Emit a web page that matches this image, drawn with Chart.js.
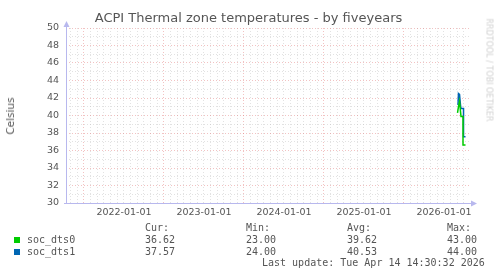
<!DOCTYPE html>
<html>
<head>
<meta charset="utf-8">
<script src="https://cdn.jsdelivr.net/npm/chart.js@4.4.1/dist/chart.umd.min.js"></script>
<style>
  html, body { margin: 0; padding: 0; background: #fff; }
  #wrap { position: relative; width: 497px; height: 276px; overflow: hidden; }
  #graf { position: absolute; left: 0; top: 0; }
  .t { position: absolute; white-space: pre; color: #555; }
  #titulo { left: 0; width: 497px; top: 10px; text-align: center; font: 13px "DejaVu Sans", sans-serif; }
  #ylabel { left: 10px; top: 116px; font: 10.5px "DejaVu Sans", sans-serif; transform: translate(-50%, -50%) rotate(-90deg); }
  #marca { left: 489px; top: 70px; font: 8px "DejaVu Sans", sans-serif; color: #d0d0d0; transform: translate(-50%, -50%) rotate(90deg); }
  .mono { font: 10px "DejaVu Sans Mono", monospace; color: #555; }
  .cx { position: absolute; width: 6px; height: 6px; }
</style>
</head>
<body>
<div id="wrap">
  <canvas id="graf" width="497" height="276"></canvas>
  <div class="t" id="titulo">ACPI Thermal zone temperatures - by fiveyears</div>
  <div class="t" id="ylabel">Celsius</div>
  <div class="t" id="marca">RRDTOOL / TOBI OETIKER</div>
  <div id="legenda"></div>
</div>
<script>
// Eixo x em anos fracionários (2026.25 = abril de 2026)
const inicioX = 2021.275;
const fimX = 2026.325;
const anosRotulo = [2022, 2023, 2024, 2025, 2026];

// soc_dts0
const tempos0 = [2026.169, 2026.181, 2026.194, 2026.206, 2026.2125, 2026.2375, 2026.2375, 2026.269];
const valores0 = [40.3, 41.0, 41.6, 40.5, 39.9, 39.9, 36.62, 36.62];

// soc_dts1
const tempos1 = [2026.175, 2026.181, 2026.194, 2026.206, 2026.2125, 2026.244, 2026.244, 2026.269];
const valores1 = [41.2, 42.5, 42.4, 41.2, 40.8, 40.8, 37.57, 37.57];

// Tabela da legenda
const series = ["soc_dts0", "soc_dts1"];
const coresSerie = ["#00cc00", "#0066b3"];
const atual = ["36.62", "37.57"];
const minimo = ["23.00", "24.00"];
const media = ["39.62", "40.53"];
const maximo = ["43.00", "44.00"];
const ultimaAtualizacao = "Last update: Tue Apr 14 14:30:32 2026";

const corEixo = "#b8b8ee";
const corGradeMaior = "rgba(225,110,110,0.42)";
const corGradeMenor = "rgba(185,185,185,0.42)";

// Montar a legenda em texto
const leg = document.getElementById("legenda");
function texto(s, x, y) {
	const d = document.createElement("div");
	d.className = "t mono";
	d.textContent = s;
	d.style.left = x + "px";
	d.style.top = y + "px";
	leg.appendChild(d);
}
texto("Cur:", 145, 222);
texto("Min:", 246, 222);
texto("Avg:", 347, 222);
texto("Max:", 447, 222);
series.forEach((nome, i) => {
	const y = 234 + i * 11.7;
	const q = document.createElement("div");
	q.className = "cx";
	q.style.left = "14px";
	q.style.top = (y + 3) + "px";
	q.style.background = coresSerie[i];
	leg.appendChild(q);
	texto(nome, 27, y);
	texto(atual[i], 145, y);
	texto(minimo[i], 246, y);
	texto(media[i], 347, y);
	texto(maximo[i], 447, y);
});
texto(ultimaAtualizacao, 262, 257);

// Eixos com setas, como no rrdtool
const setas = {
	id: "setas",
	afterDraw(chart) {
		const { ctx, chartArea: a } = chart;
		ctx.save();
		ctx.strokeStyle = corEixo;
		ctx.fillStyle = corEixo;
		ctx.lineWidth = 1;
		ctx.beginPath();
		ctx.moveTo(a.left + 0.5, a.bottom + 0.5);
		ctx.lineTo(a.left + 0.5, a.top - 6);
		ctx.moveTo(a.left - 2, a.bottom + 0.5);
		ctx.lineTo(a.right + 2, a.bottom + 0.5);
		ctx.stroke();
		ctx.beginPath();
		ctx.moveTo(a.left + 0.5, a.top - 7);
		ctx.lineTo(a.left - 2.5, a.top - 1);
		ctx.lineTo(a.left + 3.5, a.top - 1);
		ctx.closePath();
		ctx.fill();
		ctx.beginPath();
		ctx.moveTo(a.right + 7, a.bottom + 0.5);
		ctx.lineTo(a.right + 1, a.bottom - 2.5);
		ctx.lineTo(a.right + 1, a.bottom + 3.5);
		ctx.closePath();
		ctx.fill();
		ctx.restore();
	},
};

const ctx = document.getElementById("graf");

const chart = new Chart(ctx, {
	type: "line",
	data: {
		datasets: [
			{
				label: series[0],
				data: tempos0.map((t, i) => ({ x: t, y: valores0[i] })),
				borderColor: coresSerie[0],
				borderWidth: 1.5,
				pointRadius: 0,
				tension: 0,
				fill: false,
			},
			{
				label: series[1],
				data: tempos1.map((t, i) => ({ x: t, y: valores1[i] })),
				borderColor: coresSerie[1],
				borderWidth: 1.5,
				pointRadius: 0,
				tension: 0,
				fill: false,
			},
		],
	},
	options: {
		responsive: false,
		devicePixelRatio: 1,
		animation: false,
		layout: {
			padding: { left: 0, top: 28, right: 27, bottom: 0 },
		},
		plugins: {
			legend: { display: false },
			tooltip: { enabled: false },
			title: { display: false },
		},
		scales: {
			x: {
				type: "linear",
				min: inicioX,
				max: fimX,
				afterFit: (s) => { s.height = 73; },
				afterBuildTicks: (s) => {
					// um tick por mês
					const t = [];
					for (let a = 2021; a <= 2026; a++) {
						for (let m = 0; m < 12; m++) {
							const v = a + m / 12;
							if (v > inicioX && v < fimX) t.push({ value: v });
						}
					}
					s.ticks = t;
				},
				border: { display: false, dash: [1, 2] },
				grid: {
					drawTicks: false,
					color: (c) => {
						const v = c.tick ? c.tick.value : 0;
						const frac = Math.round((v - Math.floor(v + 1e-6)) * 12);
						return frac === 6 ? corGradeMaior : corGradeMenor;
					},
				},
				ticks: {
					autoSkip: false,
					maxRotation: 0,
					padding: 4,
					color: "#555",
					font: { family: "DejaVu Sans", size: 9.5 },
					callback: (v) => {
						const a = Math.round(v);
						return Math.abs(v - a) < 1e-6 && anosRotulo.includes(a) ? a + "-01-01" : "";
					},
				},
			},
			y: {
				min: 30,
				max: 50,
				afterFit: (s) => { s.width = 66; },
				border: { display: false, dash: [1, 2] },
				grid: {
					drawTicks: false,
					color: (c) => {
						const v = c.tick ? c.tick.value : 0;
						if (v === 30) return "rgba(0,0,0,0)";
						return v % 2 === 0 ? corGradeMaior : corGradeMenor;
					},
				},
				ticks: {
					stepSize: 1,
					autoSkip: false,
					padding: 7,
					color: "#555",
					font: { family: "DejaVu Sans", size: 9.5 },
					callback: (v) => (v % 2 === 0 ? String(v) : ""),
				},
			},
		},
	},
	plugins: [setas],
});
</script>
</body>
</html>
